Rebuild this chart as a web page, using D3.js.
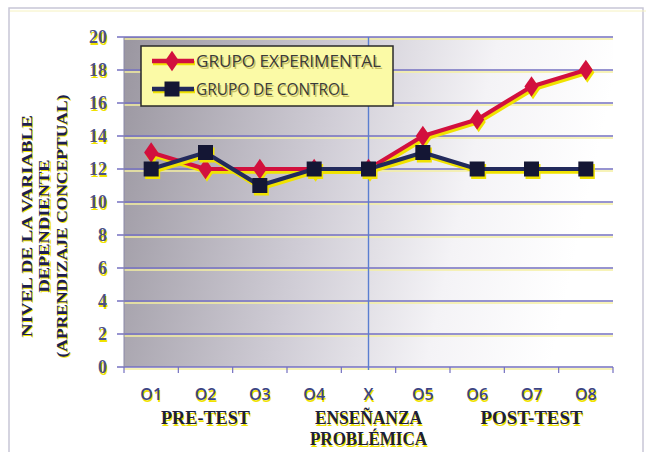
<!DOCTYPE html>
<html>
<head>
<meta charset="utf-8">
<script src="https://cdn.jsdelivr.net/npm/d3@7"></script>
<style>
  body { margin: 0; background: #fff; }
</style>
</head>
<body>
<div id="chart"></div>
<script>
// data
var categories = ['O1', 'O2', 'O3', 'O4', 'X', 'O5', 'O6', 'O7', 'O8'];
var experimental = [13, 12, 12, 12, 12, 14, 15, 17, 18];
var control = [12, 13, 11, 12, 12, 13, 12, 12, 12];
var yTicks = [0, 2, 4, 6, 8, 10, 12, 14, 16, 18, 20];
var seriesNames = ['GRUPO EXPERIMENTAL', 'GRUPO DE CONTROL'];
var phaseLabels = [
    { at: 'O2', lines: ['PRE-TEST'] },
    { at: 'X', lines: ['ENSEÑANZA', 'PROBLÉMICA'] },
    { at: 'O7', lines: ['POST-TEST'] }
];
var yTitle = ['NIVEL DE LA VARIABLE', 'DEPENDIENTE', '(APRENDIZAJE CONCEPTUAL)'];

var width = 646;
var height = 452;
var plot = { left: 124, right: 613, top: 37, bottom: 367 };

var shadow = '#f0e200';
var grid = '#7470c0';

var svg = d3.select('#chart')
    .append('svg')
    .attr('width', width)
    .attr('height', height)
    .style('font-family', 'Liberation Serif, serif');

var defs = svg.append('defs');
var grad = defs.append('linearGradient')
    .attr('id', 'bg')
    .attr('x1', '0').attr('y1', '0')
    .attr('x2', '1').attr('y2', '0.15');
grad.append('stop').attr('offset', '0%').attr('stop-color', '#9a96a0');
grad.append('stop').attr('offset', '45%').attr('stop-color', '#d0cdd6');
grad.append('stop').attr('offset', '75%').attr('stop-color', '#f4f3f6');
grad.append('stop').attr('offset', '100%').attr('stop-color', '#ffffff');

// outer frame
svg.append('rect')
    .attr('x', 9).attr('y', 8)
    .attr('width', width - 12).attr('height', height - 4)
    .attr('fill', 'none')
    .attr('stroke', '#c8c6d6')
    .attr('stroke-width', 1.5);
svg.append('line')
    .attr('x1', 10).attr('x2', width).attr('y1', 11).attr('y2', 11)
    .attr('stroke', '#f6f2c0').attr('stroke-width', 1);

var x = d3.scaleBand()
    .domain(categories)
    .range([plot.left, plot.right]);
var y = d3.scaleLinear()
    .domain([0, 20])
    .range([plot.bottom, plot.top]);

// plot area
svg.append('rect')
    .attr('x', plot.left).attr('y', plot.top)
    .attr('width', plot.right - plot.left)
    .attr('height', plot.bottom - plot.top)
    .attr('fill', 'url(#bg)');

// gridlines with yellow offset underneath
var gridGroup = svg.append('g').attr('class', 'grid');
gridGroup.selectAll('.grid-shadow')
    .data(yTicks)
    .enter()
    .append('line')
    .attr('class', 'grid-shadow')
    .attr('x1', plot.left).attr('x2', plot.right)
    .attr('y1', function(d) { return y(d) + 2; })
    .attr('y2', function(d) { return y(d) + 2; })
    .attr('stroke', '#f4efa0')
    .attr('stroke-width', 1.5);
gridGroup.selectAll('.grid-line')
    .data(yTicks)
    .enter()
    .append('line')
    .attr('class', 'grid-line')
    .attr('x1', plot.left - 7).attr('x2', plot.right)
    .attr('y1', function(d) { return y(d); })
    .attr('y2', function(d) { return y(d); })
    .attr('stroke', grid)
    .attr('stroke-width', 1.4);

// left axis line
svg.append('line')
    .attr('x1', plot.left).attr('x2', plot.left)
    .attr('y1', plot.top).attr('y2', plot.bottom)
    .attr('stroke', '#8a88a8').attr('stroke-width', 1);

// vertical line at X
svg.append('line')
    .attr('x1', x('X') + x.bandwidth() / 2)
    .attr('x2', x('X') + x.bandwidth() / 2)
    .attr('y1', plot.top).attr('y2', plot.bottom + 3)
    .attr('stroke', '#5a7ed0')
    .attr('stroke-width', 1.4);

// x axis ticks at band edges
var edges = categories.map(function(d) { return x(d); }).concat([plot.right]);
svg.append('g')
    .selectAll('line')
    .data(edges)
    .enter()
    .append('line')
    .attr('x1', function(d) { return d; })
    .attr('x2', function(d) { return d; })
    .attr('y1', plot.bottom).attr('y2', plot.bottom + 6)
    .attr('stroke', grid)
    .attr('stroke-width', 1.2);

// y tick labels
var yLabels = svg.append('g').attr('class', 'y-labels');
[[1, 1.5, shadow], [0, 0, '#4c5084']].forEach(function(s) {
    yLabels.append('g')
        .selectAll('text')
        .data(yTicks)
        .enter()
        .append('text')
        .attr('x', 107 + s[0])
        .attr('y', function(d) { return y(d) + 6 + s[1]; })
        .attr('text-anchor', 'end')
        .style('font-size', '18px')
        .style('font-weight', 'bold')
        .attr('fill', s[2])
        .text(function(d) { return d; });
});

// x category labels
var xLabels = svg.append('g').attr('class', 'x-labels');
[[1, 1.5, shadow], [0, 0, '#3c4482']].forEach(function(s) {
    xLabels.append('g')
        .selectAll('text')
        .data(categories)
        .enter()
        .append('text')
        .attr('x', function(d) { return x(d) + x.bandwidth() / 2 + s[0]; })
        .attr('y', 400 + s[1])
        .attr('text-anchor', 'middle')
        .style('font-family', 'Open Sans, Liberation Sans, sans-serif')
        .style('font-size', '16px')
        .style('font-weight', '600')
        .attr('fill', s[2])
        .text(function(d) { return d; });
});

// phase labels, tall and narrow like the picture
var phaseWidths = { 'PRE-TEST': 89, 'ENSEÑANZA': 107, 'PROBLÉMICA': 117, 'POST-TEST': 102 };
var phaseGroup = svg.append('g').attr('class', 'phase-labels');
[[1, 1.5, shadow], [0, 0, '#1c1e3c']].forEach(function(s) {
    phaseLabels.forEach(function(p) {
        p.lines.forEach(function(line, i) {
            var cxp = x(p.at) + x.bandwidth() / 2 + s[0];
            phaseGroup.append('text')
                .attr('x', cxp - phaseWidths[line] / 2)
                .attr('y', 424 + i * 21 + s[1])
                .attr('textLength', phaseWidths[line])
                .attr('lengthAdjust', 'spacingAndGlyphs')
                .style('font-size', '18px')
                .style('font-weight', 'bold')
                .attr('fill', s[2])
                .text(line);
        });
    });
});

// y axis title
var titleLengths = [222, 133, 263];
var titleGroup = svg.append('g')
    .attr('transform', 'translate(44,226) rotate(-90)');
[[1.5, 1, shadow], [0, 0, '#1c1e50']].forEach(function(s) {
    yTitle.forEach(function(line, i) {
        titleGroup.append('text')
            .attr('x', -titleLengths[i] / 2 - s[1])
            .attr('y', (i - 1) * 17.5 + 5 + s[0])
            .attr('textLength', titleLengths[i])
            .attr('lengthAdjust', 'spacingAndGlyphs')
            .style('font-size', '14.5px')
            .style('font-weight', 'bold')
            .attr('fill', s[2])
            .text(line);
    });
});

// series
var cx = function(d, i) { return x(categories[i]) + x.bandwidth() / 2; };
var lineGen = d3.line()
    .x(function(d, i) { return cx(d, i); })
    .y(function(d) { return y(d); });

var series = [
    { name: seriesNames[0], values: experimental, color: '#d2103e', marker: 'diamond' },
    { name: seriesNames[1], values: control, color: '#222a5c', marker: 'square' }
];

function drawMarker(g, type, px, py, fill) {
    if (type === 'diamond') {
        g.append('path')
            .attr('d', d3.symbol().type(d3.symbolDiamond).size(120)())
            .attr('transform', 'translate(' + px + ',' + py + ') scale(1.2,1)')
            .attr('fill', fill);
    } else {
        g.append('rect')
            .attr('x', px - 7.5).attr('y', py - 7.5)
            .attr('width', 15).attr('height', 15)
            .attr('fill', fill);
    }
}

var seriesGroup = svg.append('g').attr('class', 'series');
series.forEach(function(s) {
    var g = seriesGroup.append('g');
    // yellow shadow
    g.append('path')
        .datum(s.values)
        .attr('d', lineGen)
        .attr('transform', 'translate(1.5,2.5)')
        .attr('fill', 'none')
        .attr('stroke', shadow)
        .attr('stroke-width', 4.5);
    s.values.forEach(function(v, i) {
        drawMarker(g, s.marker, cx(v, i) + 1.5, y(v) + 2.5, shadow);
    });
    g.append('path')
        .datum(s.values)
        .attr('d', lineGen)
        .attr('fill', 'none')
        .attr('stroke', s.color)
        .attr('stroke-width', 4.2)
        .attr('stroke-linejoin', 'round');
    s.values.forEach(function(v, i) {
        drawMarker(g, s.marker, cx(v, i), y(v), s.marker === 'square' ? '#141634' : s.color);
    });
});

// legend
var legend = svg.append('g').attr('class', 'legend');
legend.append('rect')
    .attr('x', 141).attr('y', 46)
    .attr('width', 252).attr('height', 60)
    .attr('fill', '#fbfaa6')
    .attr('stroke', '#2a2a2a')
    .attr('stroke-width', 1.5);
series.forEach(function(s, i) {
    var ly = 61 + i * 28;
    legend.append('line')
        .attr('x1', 153).attr('x2', 195)
        .attr('y1', ly + 2).attr('y2', ly + 2)
        .attr('stroke', shadow).attr('stroke-width', 4.5);
    legend.append('line')
        .attr('x1', 152).attr('x2', 194)
        .attr('y1', ly).attr('y2', ly)
        .attr('stroke', s.color).attr('stroke-width', 4.5);
    drawMarker(legend, s.marker, 172, ly, s.marker === 'square' ? '#141634' : s.color);
    legend.append('text')
        .attr('x', 197.5).attr('y', ly + 7.5)
        .attr('textLength', s.name === seriesNames[0] ? 185 : 152)
        .attr('lengthAdjust', 'spacingAndGlyphs')
        .style('font-family', 'Open Sans, Liberation Sans, sans-serif')
        .style('font-size', '16px')
        .attr('fill', '#c8c060')
        .text(s.name);
    legend.append('text')
        .attr('x', 196).attr('y', ly + 6)
        .attr('textLength', s.name === seriesNames[0] ? 185 : 152)
        .attr('lengthAdjust', 'spacingAndGlyphs')
        .style('font-family', 'Open Sans, Liberation Sans, sans-serif')
        .style('font-size', '16px')
        .attr('fill', '#3a3a3a')
        .text(s.name);
});
</script>
</body>
</html>
